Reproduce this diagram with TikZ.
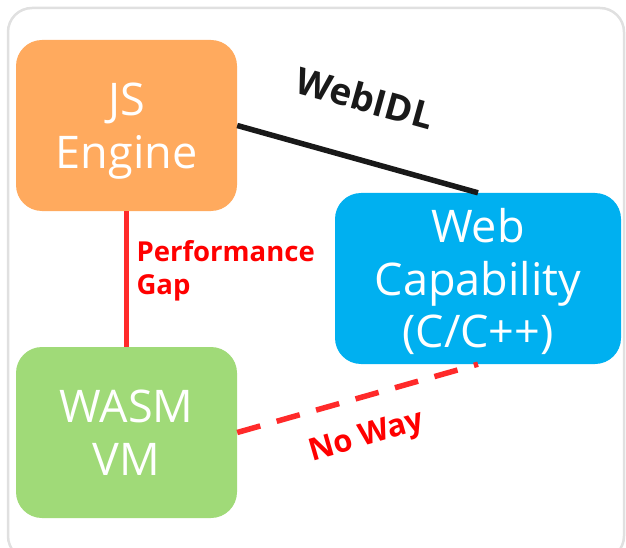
\documentclass[tikz,border=0pt]{standalone}
\usepackage{fontspec}
\setmainfont{Open Sans}
\definecolor{jsorange}{HTML}{FFAA5E}
\definecolor{webblue}{HTML}{00B0F0}
\definecolor{wasmgreen}{HTML}{A0DA78}
\definecolor{linkred}{HTML}{FF2A2A}
\definecolor{labelred}{HTML}{FF0000}
\definecolor{framegray}{HTML}{E0E0E0}
% centred block text, set slightly below the box centre (size kept as before)
\newcommand{\blocktext}[1]{\raisebox{-6pt}[\height][\depth]{\begin{tabular}{@{}c@{}}#1\end{tabular}}}
\begin{document}
\begin{tikzpicture}[x=1pt,y=-1pt,
  block/.style={rounded corners=26pt, inner sep=0pt,
    text=white, font=\fontsize{45}{52.5}\selectfont},
  redlabel/.style={text=labelred, font=\bfseries\fontsize{27.5}{33}\selectfont},
  link/.style={line width=5.5pt}]
\useasboundingbox (0,0) rectangle (626,548);
\clip (0,0) rectangle (626,548);
% outer frame
\draw[framegray, line width=2.5pt, rounded corners=24pt] (8,8) rectangle (624,560);
% blocks
\node[block, fill=jsorange, minimum width=221pt, minimum height=171pt] (js) at (126.5,125.5) {\blocktext{JS\\Engine}};
\node[block, fill=webblue, minimum width=286pt, minimum height=171pt] (web) at (478,278.5) {\blocktext{Web\\Capability\\(C/C++)}};
\node[block, fill=wasmgreen, minimum width=221pt, minimum height=171pt] (wasm) at (126.5,432.5) {\blocktext{WASM\\VM}};
% connectors
\draw[link, black!90] (js.east) -- (web.north);
\draw[link, linkred] (js.south) -- (wasm.north);
\draw[link, linkred, dash pattern=on 24pt off 17pt] (wasm.east) -- (web.south);
% labels
\node[rotate=-15.5, font=\bfseries\fontsize{37}{44}\selectfont, text=black!90] (idl) at (365,98) {WebIDL};
\node[redlabel, anchor=west, align=left] (gap) at (133,271) {Performance\\Gap};
\node[redlabel, rotate=16, font=\bfseries\fontsize{31}{36}\selectfont] (noway) at (367,438) {No Way};
\end{tikzpicture}
\end{document}
